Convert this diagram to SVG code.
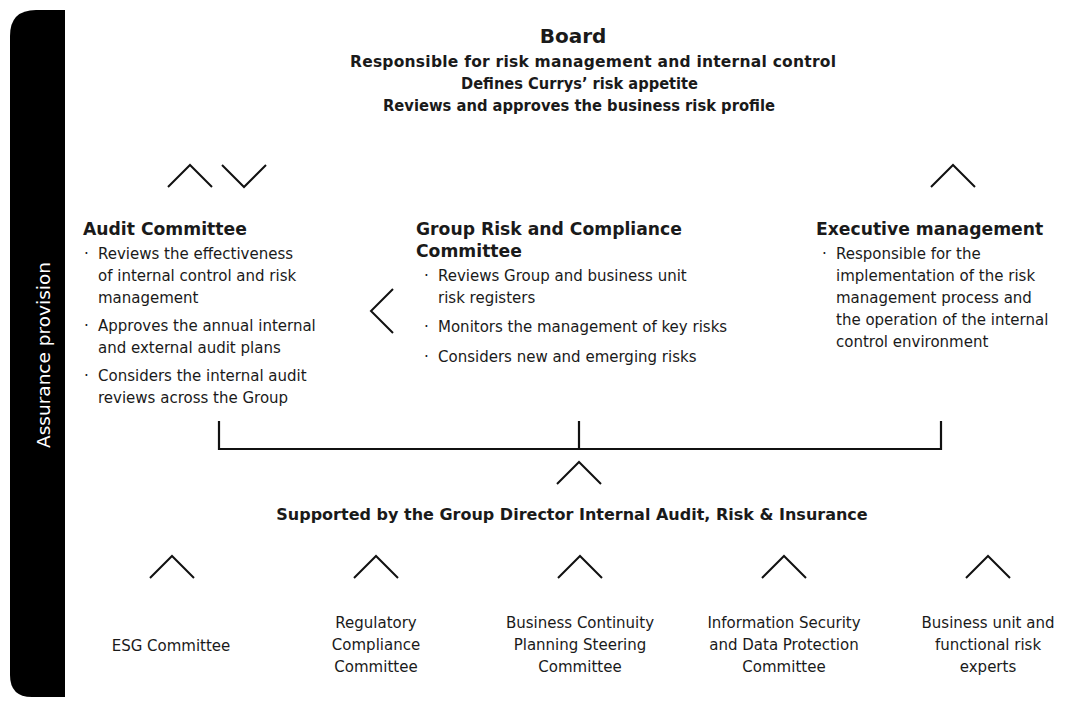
<svg xmlns="http://www.w3.org/2000/svg" width="1072" height="711" viewBox="0 0 1072 711">
<style>
text{font-family:"DejaVu Sans","Liberation Sans",sans-serif;fill:#1a1a1a}
.t{font-size:20px;font-weight:700}
.s{font-size:15.5px;font-weight:700}
.h{font-size:17.2px;font-weight:700}
.d{font-size:16px;font-weight:700}
.p{font-size:15px;font-weight:400}
.c{text-anchor:middle}
.ch{fill:none;stroke:#111;stroke-width:2}
.ln{fill:none;stroke:#111;stroke-width:2.2}
</style>
<defs>
<path id="up" class="ch" d="M-22,11 L0,-11 L22,11"/>
</defs>
<g id="side">
<path d="M65,10 L36,10 Q10,10 10,36 L10,675 Q10,697 32,697 L65,697 Z" fill="#000"/>
<text transform="translate(50,355) rotate(-90)" class="c" style="font-size:18.5px;fill:#fff">Assurance provision</text>
</g>
<g id="board">
<text x="573" y="43" class="t c">Board</text>
<text x="350" y="67" class="s" textLength="486" lengthAdjust="spacing">Responsible for risk management and internal control</text>
<text x="461" y="89" class="s" textLength="237" lengthAdjust="spacingAndGlyphs">Defines Currys’ risk appetite</text>
<text x="383" y="111" class="s" textLength="392" lengthAdjust="spacingAndGlyphs">Reviews and approves the business risk profile</text>
</g>
<g id="audit">
<text x="83" y="235" class="h">Audit Committee</text>
<g class="p">
<text x="84" y="259">·</text><text x="98" y="259">Reviews the effectiveness</text>
<text x="98" y="281">of internal control and risk</text>
<text x="98" y="303">management</text>
<text x="84" y="331">·</text><text x="98" y="331">Approves the annual internal</text>
<text x="98" y="353">and external audit plans</text>
<text x="84" y="381">·</text><text x="98" y="381">Considers the internal audit</text>
<text x="98" y="403">reviews across the Group</text>
</g>
</g>
<g id="grc">
<text x="416" y="235" class="h">Group Risk and Compliance</text>
<text x="416" y="257" class="h">Committee</text>
<g class="p">
<text x="424" y="281">·</text><text x="438" y="281">Reviews Group and business unit</text>
<text x="438" y="303">risk registers</text>
<text x="424" y="332">·</text><text x="438" y="332">Monitors the management of key risks</text>
<text x="424" y="362">·</text><text x="438" y="362">Considers new and emerging risks</text>
</g>
</g>
<g id="exec">
<text x="816" y="235" class="h">Executive management</text>
<g class="p">
<text x="822" y="259">·</text><text x="836" y="259">Responsible for the</text>
<text x="836" y="281">implementation of the risk</text>
<text x="836" y="303">management process and</text>
<text x="836" y="325">the operation of the internal</text>
<text x="836" y="347">control environment</text>
</g>
</g>
<g id="director">
<text x="572" y="520" class="d c">Supported by the Group Director Internal Audit, Risk &amp; Insurance</text>
</g>
<g id="esg"><text x="171" y="651" class="p c">ESG Committee</text></g>
<g id="reg">
<text x="376" y="628" class="p c">Regulatory</text>
<text x="376" y="650" class="p c">Compliance</text>
<text x="376" y="672" class="p c">Committee</text>
</g>
<g id="bcp">
<text x="580" y="628" class="p c">Business Continuity</text>
<text x="580" y="650" class="p c">Planning Steering</text>
<text x="580" y="672" class="p c">Committee</text>
</g>
<g id="infosec">
<text x="784" y="628" class="p c">Information Security</text>
<text x="784" y="650" class="p c">and Data Protection</text>
<text x="784" y="672" class="p c">Committee</text>
</g>
<g id="bu">
<text x="988" y="628" class="p c">Business unit and</text>
<text x="988" y="650" class="p c">functional risk</text>
<text x="988" y="672" class="p c">experts</text>
</g>
<g id="connectors">
<use href="#up" x="190" y="176"/>
<path class="ch" d="M222,165 L244,187 L266,165"/>
<use href="#up" x="953" y="176"/>
<path class="ch" d="M393,289 L371,311 L393,333"/>
<path class="ln" d="M219,421 L219,449 L941,449 L941,421 M579,421 L579,449"/>
<use href="#up" x="579" y="473"/>
<use href="#up" x="172" y="567"/>
<use href="#up" x="376" y="567"/>
<use href="#up" x="580" y="567"/>
<use href="#up" x="784" y="567"/>
<use href="#up" x="988" y="567"/>
</g>
</svg>
